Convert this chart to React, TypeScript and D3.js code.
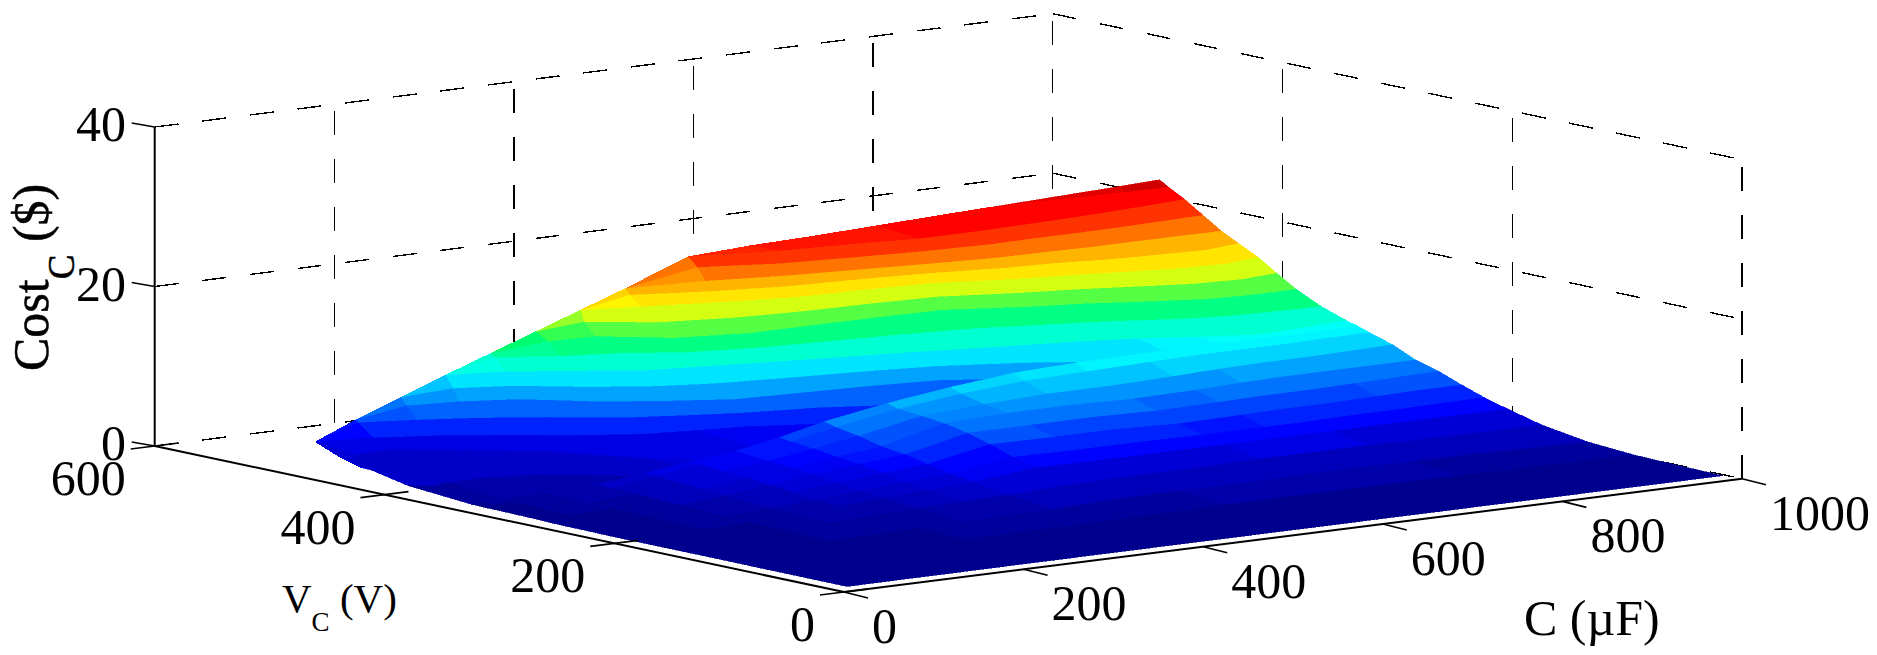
import React from 'react';
import * as d3 from 'd3';

const WIDTH = 1877;
const HEIGHT = 655;

// axis ticks
const cTicks = [0, 200, 400, 600, 800, 1000];
const vTicks = [0, 200, 400, 600];
const zTicks = [0, 20, 40];

// columns of the surface, shared by both sheets
const cValues = [20, 35, 55, 100, 150, 200, 250, 300, 350, 400, 470, 540, 610, 680, 750, 800, 850, 900, 950, 995];

// lower sheet, below the crease: cost per V row, one entry per cValues
const vLower = [13, 50, 90, 130, 170, 200, 220, 240, 260, 280, 300, 320, 330, 340];
const costLower: number[][] = [
  [.01, .015, .02, .03, .03, .04, .04, .05, .05, .05, .05, .05, .05, .05, .05, .05, .05, .05, .05, .05],
  [.02, .025, .03, .05, .08, .1, .12, .14, .15, .15, .2, .2, .2, .2, .2, .2, .18, .17, .16, .15],
  [.03, .04, .05, .1, .15, .2, .25, .3, .33, .35, .4, .5, .5, .5, .5, .45, .4, .38, .35, .3],
  [.05, .06, .08, .15, .25, .35, .45, .55, .65, .7, 1, 1, 1, 1.1, 1.1, 1, 1, .9, .8, .7],
  [.05, .07, .1, .2, .4, .6, .8, 1, 1.2, 1.3, 1.6, 1.7, 1.7, 1.8, 1.8, 1.8, 1.7, 1.7, 1.6, 1.6],
  [.05, .07, .1, .3, .5, .8, 1.1, 1.4, 1.7, 2, 2.8, 2.7, 2.7, 2.7, 2.7, 2.7, 2.7, 2.7, 2.7, 2.7],
  [.05, .1, .15, .35, .6, .9, 1.3, 1.7, 2.1, 2.4, 3.5, 3.4, 3.4, 3.3, 3.3, 3.3, 3.4, 3.4, 3.5, 3.5],
  [.1, .12, .15, .4, .7, 1.1, 1.6, 2.1, 2.6, 3, 4.5, 4.4, 4.4, 4.1, 4.2, 4.3, 4.3, 4.4, 4.5, 4.5],
  [.1, .15, .2, .45, .8, 1.3, 1.9, 2.5, 3.1, 3.6, 5.3, 5.3, 5.3, 5.1, 5.2, 5.3, 5.3, 5.4, 5.5, 5.6],
  [.2, .2, .25, .5, .9, 1.5, 2.2, 2.7, 3.4, 4, 5.9, 6.2, 6.2, 6, 6.1, 6.3, 6.4, 6.4, 6.4, 6.4],
  [.25, .25, .3, .55, 1, 1.7, 2.4, 3, 3.8, 4.7, 6.2, 6.7, 7, 7, 7.2, 7.4, 7.5, 7.5, 7.6, 7.7],
  [.3, .3, .35, .6, 1.1, 1.9, 2.6, 3.2, 4.1, 5.2, 6.5, 7.4, 8, 8.2, 8.4, 8.5, 8.5, 8.5, 8.6, 8.6],
  [.3, .35, .4, .65, 1.2, 2, 2.7, 3.3, 4.3, 5.6, 6.9, 7.9, 8.7, 9, 9.1, 9.1, 9.1, 9.1, 9.1, 9.1],
  [.35, .4, .45, .6, .8, 1.3, 1.8, 2, 2.4, 2.6, 2.7, 3.6, 4.6, 5.5, 7, 8, 8.7, 9.1, 9.3, 9.5],
];

// upper sheet, above the crease: V reached at each cost level, one entry per cValues
const costLevels = [0, 1, 2, 3, 4.5, 6, 7.5, 9.1, 10.6, 12.1, 13.6, 15.1, 16.3, 17.4, 18.9, 20.4, 21.5, 23];
const vAtLevel: number[][] = [
  [340, 340, 340, 340, 340, 340, 340, 340, 340, 340, 340, 340, 340, 340, 340, 340, 340, 340, 340, 340],
  [395, 385, 390, 390, 380, 340, 340, 340, 340, 340, 340, 340, 340, 340, 340, 340, 340, 340, 340, 340],
  [428, 455, 470, 473, 445, 420, 365, 340, 340, 340, 340, 340, 340, 340, 340, 340, 340, 340, 340, 340],
  [435, 466, 503, 488, 473, 452, 428, 410, 402, 395, 375, 340, 340, 340, 340, 340, 340, 340, 340, 340],
  [435, 466, 503, 501, 489, 474, 453, 428, 414, 401, 390, 370, 340, 340, 340, 340, 340, 340, 340, 340],
  [435, 466, 503, 503, 498, 492, 478, 445, 425, 408, 403, 398, 390, 360, 340, 340, 340, 340, 340, 340],
  [435, 466, 503, 503, 503, 497, 484, 456, 436, 424, 415, 407, 397, 378, 351, 340, 340, 340, 340, 340],
  [435, 466, 503, 503, 503, 503, 490, 470, 448, 440, 428, 417, 406, 393, 381, 370, 354, 340, 340, 340],
  [435, 466, 503, 503, 503, 503, 500, 481, 470, 450, 438, 432, 426, 418, 403, 392, 377, 367, 364, 362],
  [435, 466, 503, 503, 503, 503, 503, 492, 490, 460, 448, 448, 447, 445, 425, 415, 400, 387, 383, 384],
  [435, 466, 503, 503, 503, 503, 503, 503, 500, 475, 462, 456, 454, 450, 433, 424, 412, 400, 396, 401],
  [435, 466, 503, 503, 503, 503, 503, 503, 503, 490, 476, 464, 461, 456, 440, 432, 423, 414, 410, 417],
  [435, 466, 503, 503, 503, 503, 503, 503, 503, 499, 482, 470, 465, 458, 447, 443, 435, 431, 428, 434],
  [435, 466, 503, 503, 503, 503, 503, 503, 503, 503, 488, 476, 468, 460, 453, 452, 450, 450, 450, 449],
  [435, 466, 503, 503, 503, 503, 503, 503, 503, 503, 495, 478, 470, 463, 459, 460, 460, 461, 463, 465],
  [435, 466, 503, 503, 503, 503, 503, 503, 503, 503, 503, 480, 474, 466, 466, 468, 470, 473, 477, 481],
  [435, 466, 503, 503, 503, 503, 503, 503, 503, 503, 503, 503, 503, 503, 503, 503, 501, 498, 496, 495],
  [435, 466, 503, 503, 503, 503, 503, 503, 503, 503, 503, 503, 503, 503, 503, 503, 503, 503, 503, 503],
];
// cost along the far edge of the surface
const costTop = [2, 2.2, 2.7, 4.8, 6.9, 9, 11, 13, 15, 17, 20, 20.4, 20.6, 20.9, 21.2, 21.4, 21.6, 21.8, 22, 22.2];

// oblique projection of the 3-D box, front corner is C=0, V=0, Cost=0
const originX = 844;
const originY = 592;
const cToX = d3.scaleLinear().domain([0, 1000]).range([0, 898]);
const cToY = d3.scaleLinear().domain([0, 1000]).range([0, -113.3]);
const vToX = d3.scaleLinear().domain([0, 600]).range([0, -689.3]);
const vToY = d3.scaleLinear().domain([0, 600]).range([0, -146]);
const zToY = d3.scaleLinear().domain([0, 40]).range([0, -319]);

type Pt = [number, number];
const project = (c: number, v: number, z: number): Pt => [
  originX + cToX(c) + vToX(v),
  originY + cToY(c) + vToY(v) + zToY(z),
];

// jet-like map, 64 flat steps, the greens are more saturated than matlab's default
const jetStops = d3.scaleLinear<string>()
  .domain([0, 0.125, 0.375, 0.5, 0.56, 0.625, 0.875, 1])
  .range(['#00008f', '#0000ff', '#00ffff', '#00ff66', '#80ff33', '#ffff00', '#ff0000', '#800000']);
const jet = d3.scaleQuantize<string>()
  .domain([0, 24])
  .range(d3.range(64).map(i => jetStops(i / 63)));

const polyline = d3.line();
const seg = (a: Pt, b: Pt) => polyline([a, b]) as string;

type Node = { v: number; z: number };
const facets: { d: string; fill: string; key: string }[] = [];

// rows run from far to near, columns from high C to low C, so nearer cells paint over
function addSheet(name: string, rows: Node[][]) {
  for (let i = rows.length - 2; i >= 0; i--) {
    for (let j = cValues.length - 2; j >= 0; j--) {
      const corners: [number, Node][] = [
        [cValues[j], rows[i][j]],
        [cValues[j + 1], rows[i][j + 1]],
        [cValues[j + 1], rows[i + 1][j + 1]],
        [cValues[j], rows[i + 1][j]],
      ];
      const d = polyline(corners.map(([c, n]) => project(c, n.v, n.z))) + 'Z';
      const mean = d3.mean(corners, ([, n]) => n.z) as number;
      facets.push({ d, fill: jet(mean), key: `${name}-${i}-${j}` });
    }
  }
}

const costAtCrease = costLower[costLower.length - 1];
addSheet('upper', vAtLevel.map((row, l) => row.map((v, j) => ({
  v,
  z: Math.min(Math.max(costLevels[l], costAtCrease[j]), costTop[j]),
}))));
addSheet('lower', vLower.map((v, i) => costLower[i].map(z => ({ v, z }))));

const FONT = '"Liberation Serif", "Times New Roman", serif';
const cMax = 1000;
const vMax = 600;
const zMax = 40;
const GRID_DASH = '24 24';

export default function App() {
  const gridLines: string[] = [];
  // back wall at V=600, side wall at C=1000, each dash run starts at the near end
  zTicks.forEach(z => {
    gridLines.push(seg(project(0, vMax, z), project(cMax, vMax, z)));
    gridLines.push(seg(project(cMax, vMax, z), project(cMax, 0, z)));
  });
  cTicks.slice(1).forEach(c => gridLines.push(seg(project(c, vMax, 0), project(c, vMax, zMax))));
  vTicks.forEach(v => gridLines.push(seg(project(cMax, v, 0), project(cMax, v, zMax))));

  const ticks: string[] = [];
  vTicks.forEach(v => {
    const [x, y] = project(0, v, 0);
    ticks.push(seg([x - 24, y + 3], [x + 24, y - 3]));
  });
  cTicks.forEach(c => {
    const [x, y] = project(c, 0, 0);
    ticks.push(seg([x, y], [x + 24, y + 6]));
  });
  zTicks.forEach(z => {
    const [x, y] = project(0, vMax, z);
    ticks.push(seg([x - 23, y - 4], [x, y]));
  });

  return (
    <svg
      width={WIDTH}
      height={HEIGHT}
      viewBox={`0 0 ${WIDTH} ${HEIGHT}`}
      style={{ position: 'absolute', left: 0, top: 0, background: '#fff' }}
      fontFamily={FONT}
    >
      <g fill="none" stroke="#000" strokeWidth={1.4} strokeDasharray={GRID_DASH} shapeRendering="crispEdges">
        {gridLines.map((d, i) => <path key={i} d={d} />)}
      </g>

      <g shapeRendering="crispEdges">
        {facets.map(f => <path key={f.key} d={f.d} fill={f.fill} stroke={f.fill} strokeWidth={0.6} />)}
      </g>

      <g fill="none" stroke="#000" strokeWidth={1.6}>
        {ticks.map((d, i) => <path key={i} d={d} />)}
        <path d={seg(project(0, vMax, 0), project(0, vMax, zMax))} strokeWidth={2} />
        <path d={seg(project(0, vMax, 0), project(0, 0, 0))} strokeWidth={2} />
        <path d={seg(project(0, 0, 0), project(cMax, 0, 0))} strokeWidth={2} />
      </g>

      <g fontSize={50} fill="#000">
        {zTicks.map(z => (
          <text key={z} x={126} y={project(0, vMax, z)[1] + 14} textAnchor="end">{z}</text>
        ))}
        {vTicks.map(v => {
          const [x, y] = project(0, v, 0);
          return <text key={v} x={x - 29} y={y + 49} textAnchor="end">{v}</text>;
        })}
        {cTicks.map(c => {
          const [x, y] = project(c, 0, 0);
          return <text key={c} x={x + 28} y={y + 51}>{c}</text>;
        })}

        <text x={1524} y={635}>C (µF)</text>
        <text x={282} y={612} fontSize={41}>V<tspan fontSize={27} dy={19}>C</tspan><tspan dy={-19}> (V)</tspan></text>
        <text transform="translate(48,371) rotate(-90)" stroke="#000" strokeWidth={0.5}>
          Cost<tspan fontSize={37} dy={26}>C</tspan><tspan dy={-26}> ($)</tspan>
        </text>
      </g>
    </svg>
  );
}
